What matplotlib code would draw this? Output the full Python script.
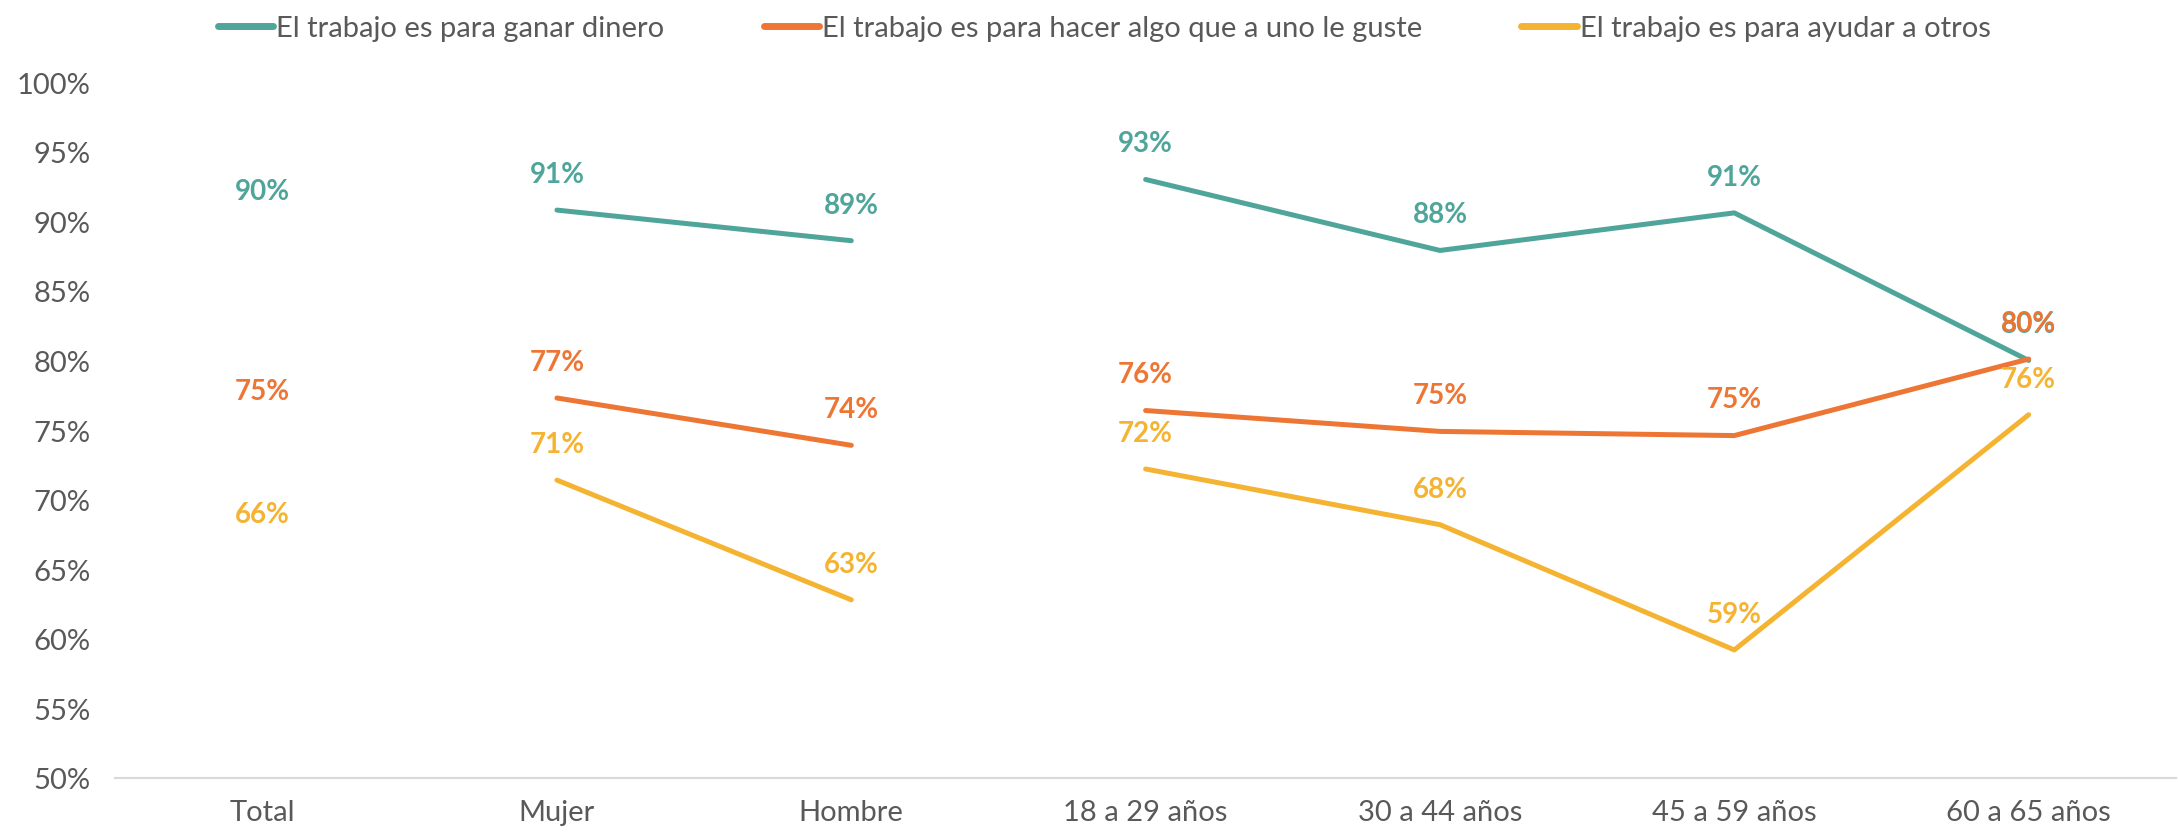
import numpy as np
import matplotlib.pyplot as plt

# categories and series (values in %)
categories = ['Total', 'Mujer', 'Hombre', '18 a 29 años', '30 a 44 años', '45 a 59 años', '60 a 65 años']
ganar_dinero = [89.6, 90.8, 88.6, 93.0, 87.9, 90.6, 80.0]
hacer_gusto = [75.2, 77.3, 73.9, 76.4, 74.9, 74.6, 80.1]
ayudar_otros = [66.4, 71.4, 62.8, 72.2, 68.2, 59.2, 76.1]
series_names = ['El trabajo es para ganar dinero',
                'El trabajo es para hacer algo que a uno le guste',
                'El trabajo es para ayudar a otros']
colors = ['#4FA59A', '#EE7634', '#F5B332']

# line segments (groups of category indices that are joined)
groups = [[0], [1, 2], [3, 4, 5, 6]]

plt.rcParams['font.family'] = ['Lato', 'DejaVu Sans']

fig = plt.figure(figsize=(21.78, 8.37), dpi=100)
ax = fig.add_axes([0.053, 0.0693, 0.946, 0.8315])

x = np.arange(len(categories))
for name, vals, col in zip(series_names, [ganar_dinero, hacer_gusto, ayudar_otros], colors):
    vals = np.array(vals)
    first = True
    for g in groups:
        if len(g) > 1:
            ax.plot(x[g], vals[g], color=col, lw=3.6, solid_capstyle='round',
                    label=name if first else None)
            first = False
    for xi, v in zip(x, vals):
        ax.annotate(f'{v:.0f}%', (xi, v), xytext=(0, 26), textcoords='offset points',
                    ha='center', va='center', color=col, fontsize=20, fontweight='bold')

ax.set_xlim(-0.5, len(categories) - 0.5)
ax.set_ylim(50, 100)
ax.set_yticks(np.arange(50, 101, 5))
ax.set_yticklabels([f'{t}%' for t in range(50, 101, 5)])
ax.set_xticks(x)
ax.set_xticklabels(categories)
ax.tick_params(length=0, labelsize=21, colors='#595959')
ax.tick_params(axis='x', pad=15)
ax.tick_params(axis='y', pad=18)
for s in ['top', 'right', 'left']:
    ax.spines[s].set_visible(False)
ax.spines['bottom'].set_color('#D9D9D9')
ax.spines['bottom'].set_linewidth(1.5)

leg = fig.legend(loc='upper center', bbox_to_anchor=(0.507, 1.012), ncol=3, frameon=False,
                 fontsize=21, handlelength=1.9, handletextpad=0.1, columnspacing=3.4)
for t in leg.get_texts():
    t.set_color('#595959')
for h in leg.legend_handles:
    h.set_linewidth(5)

fig.savefig('out.png', dpi=100)
